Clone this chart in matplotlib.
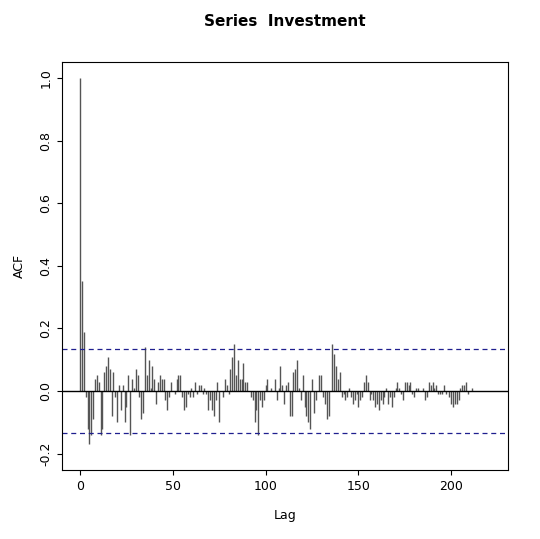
import matplotlib.pyplot as plt
import numpy as np

acf = [
    1.00, 0.35, 0.19, -0.02, -0.12, -0.17, -0.14, -0.09, 0.04, 0.05,
    0.03, -0.14, -0.12, 0.06, 0.08, 0.11, 0.07, -0.08, 0.06, -0.02,
    -0.10, 0.02, -0.06, 0.02, -0.10, -0.05, 0.05, -0.14, 0.04, 0.01,
    0.07, 0.05, -0.02, -0.09, -0.07, 0.14, 0.05, 0.10, 0.01, 0.08,
    0.04, -0.04, 0.03, 0.05, 0.04, 0.04, -0.03, -0.06, -0.02, 0.03,
    0.00, -0.01, 0.04, 0.05, 0.05, -0.02, -0.06, -0.05, -0.01, -0.02,
    0.01, -0.02, 0.03, -0.01, 0.02,
    0.02, -0.01, 0.01, -0.01, -0.06, -0.03, -0.06, -0.08, -0.03, 0.03,
    -0.10, 0.00, -0.02, 0.04, 0.02, -0.01, 0.07, 0.11, 0.15, 0.05,
    0.10, 0.04, 0.04, 0.09, 0.03, 0.03, 0.00, -0.02, -0.03, -0.10,
    -0.06, -0.14, -0.03, -0.05, -0.03, 0.02, 0.04, 0.00, 0.01, 0.00,
    0.04, -0.03, 0.01, 0.08, 0.02, -0.04, 0.02, 0.03, -0.08, -0.08,
    0.06, 0.07, 0.10, 0.01, -0.03, 0.05, -0.05, -0.08, -0.10, -0.12,
    0.04, -0.07, -0.03, 0.00, 0.05, 0.05, -0.02, -0.04, -0.09, -0.08,
    0.00, 0.15, 0.12, 0.08, 0.04, 0.06, -0.02, -0.01, -0.03, -0.02,
    0.01, -0.02, -0.04, -0.03, -0.01, -0.05, -0.03, -0.02, 0.03, 0.05,
    0.03, -0.03, -0.01, -0.03, -0.05, -0.04, -0.06, -0.03, -0.04, -0.02,
    0.01, -0.04, -0.02, -0.05, -0.02, 0.01, 0.03, 0.01, -0.01, -0.03,
    0.03, 0.03, 0.02, 0.03, -0.01, -0.02, 0.01, 0.01, 0.00, 0.00,
    0.01, -0.03, -0.02, 0.03, 0.02, 0.03, 0.01, 0.02, -0.01, -0.01,
    -0.01, 0.02, -0.01, 0.00, -0.02, -0.04, -0.05, -0.04, -0.04, -0.03,
    0.01, 0.02, 0.02, 0.03, -0.01, 0.00, 0.01,
]
ci = 0.133

lags = np.arange(len(acf))

fig = plt.figure(figsize=(5.4, 5.39), dpi=100)
ax = fig.add_axes([0.115, 0.128, 0.826, 0.757])
ax.vlines(lags, 0, acf, color="#555555", linewidth=1)
ax.axhline(0, color="black", linewidth=1)
ax.axhline(ci, color="#1f1f8f", linestyle=(0, (4, 3)), linewidth=0.9)
ax.axhline(-ci, color="#1f1f8f", linestyle=(0, (4, 3)), linewidth=0.9)

ax.set_xlim(-9.7, 230.7)
ax.set_ylim(-0.252, 1.051)
ax.set_xticks([0, 50, 100, 150, 200])
ax.set_yticks([-0.2, 0.0, 0.2, 0.4, 0.6, 0.8, 1.0])
ax.set_yticklabels(["-0.2", "0.0", "0.2", "0.4", "0.6", "0.8", "1.0"], rotation=90, va="center")
ax.tick_params(labelsize=9)
ax.set_xlabel("Lag", fontsize=9, labelpad=12)
ax.set_ylabel("ACF", fontsize=9, labelpad=10)
ax.set_title("Series  Investment", fontsize=11, fontweight="bold", pad=26)

fig.savefig("out.png", dpi=100)
